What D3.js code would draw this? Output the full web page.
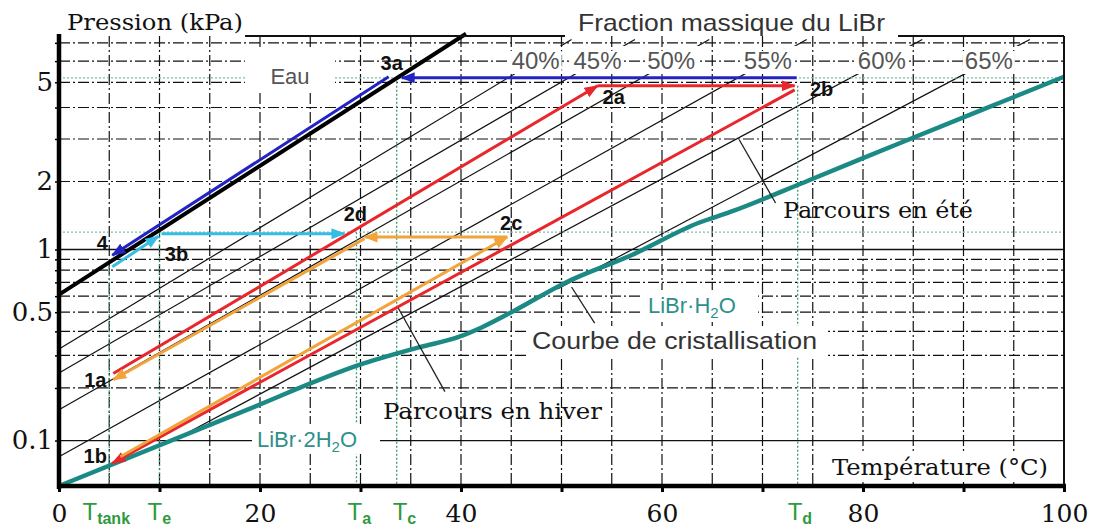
<!DOCTYPE html>
<html>
<head>
<meta charset="utf-8">
<script src="https://cdn.jsdelivr.net/npm/d3@7"></script>
<style>
body { margin: 0; background: #fff; }
svg { display: block; }
.serif { font-family: "DejaVu Serif", serif; fill: #111; }
.sans { font-family: "Liberation Sans", Arial, sans-serif; }
</style>
</head>
<body>
<div id="chart"></div>
<script>
var W = 1095, H = 531;

// ---- data ----
var tempTicks = [0, 10, 20, 30, 40, 50, 60, 70, 80, 90, 100];
var tempLabels = [0, 20, 40, 60, 80, 100];
var tempGrid = [5, 10, 15, 20, 25, 30, 35, 40, 45, 50, 55, 60, 65, 70, 75, 80, 85, 90, 95];
var pressLabels = [0.1, 0.5, 1, 2, 5];
var pressGrid = [0.2, 0.3, 0.4, 0.5, 0.6, 0.7, 0.8, 0.9, 2, 3, 4, 5, 6, 7];
var pressSolid = [0.1, 1];

// water (Eau) : [T degC, P kPa]
var eau = [[0, 0.611], [40.5, 7.55]];

// LiBr mass fraction lines
var isoNames = ["40%", "45%", "50%", "55%", "60%", "65%"];
var isoStart = [[0, 0.324], [0, 0.2415], [0, 0.151], [0, 0.080], [11.5, 0.101], [49.6, 0.65]];
var isoEnd = [[51.0, 7.2], [57.3, 7.2], [64.7, 7.2], [74.4, 7.2], [85.9, 7.2], [96.6, 7.2]];

// crystallisation curve
var cristT = [0, 17.9, 30.4, 35.9, 39.7, 42.1, 45.4, 50.3, 57.0, 63.6, 66.8, 74.7, 83.7, 93.6, 100];
var cristP = [0.0526, 0.1444, 0.2726, 0.3312, 0.3732, 0.42, 0.5117, 0.694, 0.943, 1.319, 1.4766, 2.03, 2.89, 4.175, 5.246];

// cycle paths, each segment [from, to]
var parcoursEte = [[[5.4, 0.24], [53.6, 4.85]], [[53.6, 4.85], [73.2, 4.85]], [[73.2, 4.68], [5.3, 0.073]]];
var parcoursHiver = [[[6.1, 0.080], [44.6, 1.14]], [[44.6, 1.14], [30.4, 1.14]], [[30.4, 1.12], [5.4, 0.222]]];
var vapeurCond = [[[73.4, 5.2], [34.1, 5.2]], [[32.8, 5.25], [5.3, 0.94]]];
var vapeurEvap = [[[5.3, 0.83], [9.9, 1.15]], [[10.2, 1.18], [28.4, 1.18]]];

// state points
var pointNames = ["3a", "2a", "2b", "2d", "2c", "4", "3b", "1a", "1b"];
var pointT = [33.6, 53.6, 73.3, 28.5, 44.6, 5.2, 10, 5.3, 5.3];
var pointP = [5.2, 4.85, 4.85, 1.2, 1.14, 0.88, 1.2, 0.235, 0.073];

// characteristic temperatures (green)
var tempMarkNames = ["tank", "e", "a", "c", "d"];
var tempMarks = [5, 10, 29.6, 33.6, 73.5];
var tempMarkTop = [0.872, 1.2, 1.2, 5.2, 4.85];
var pressMarks = [5.2, 1.2];

// leaders for annotations
var leaders = [[[67.7, 2.973], [71.3, 1.616]], [[33.7, 0.531], [38.4, 0.191]], [[51.0, 0.665], [53.3, 0.441]]];

// ---- scales ----
// pressure axis is linear in the saturation temperature of water (Duhring chart)
function tsat(p) {
  var L = Math.log(p / 0.61094);
  return 243.04 * L / (17.625 - L);
}
var x = d3.scaleLinear().domain([0, 100]).range([59, 1064]);
var yT = d3.scaleLinear().domain([-29.68, 40.09]).range([486, 36]);
var y = function(p) { return yT(tsat(p)); };

var line = d3.line()
  .x(function(d) { return x(d[0]); })
  .y(function(d) { return y(d[1]); });

var svg = d3.select("#chart").append("svg")
  .attr("width", W)
  .attr("height", H);

svg.append("rect").attr("width", W).attr("height", H).attr("fill", "#fff");

var colors = { red: "#e8262b", orange: "#f2a33a", blue: "#2323c4", cyan: "#36bde3" };
var defs = svg.append("defs");
Object.keys(colors).forEach(function(k) {
  defs.append("marker")
    .attr("id", "head-" + k)
    .attr("viewBox", "0 0 14 11")
    .attr("refX", 13)
    .attr("refY", 5.5)
    .attr("markerWidth", 14)
    .attr("markerHeight", 11)
    .attr("markerUnits", "userSpaceOnUse")
    .attr("orient", "auto")
    .append("path")
    .attr("d", "M0,0 L14,5.5 L0,11 Z")
    .attr("fill", colors[k]);
});

// iso concentration lines
var isoData = isoNames.map(function(n, i) { return [isoStart[i], isoEnd[i]]; });
svg.append("g").selectAll("path")
  .data(isoData)
  .enter().append("path")
  .attr("d", line)
  .attr("fill", "none")
  .attr("stroke", "#111")
  .attr("stroke-width", 1.2);

// white band behind the fraction labels
svg.append("rect")
  .attr("x", 470).attr("y", 46)
  .attr("width", 592).attr("height", 28)
  .attr("fill", "#fff");

// grid
var dash = "11,3,2,3";
svg.append("g").selectAll("line")
  .data(tempGrid)
  .enter().append("line")
  .attr("x1", function(d) { return x(d); })
  .attr("x2", function(d) { return x(d); })
  .attr("y1", yT.range()[1])
  .attr("y2", yT.range()[0])
  .attr("stroke", "#111")
  .attr("stroke-width", 1.2)
  .attr("stroke-dasharray", dash);
svg.append("g").selectAll("line")
  .data(pressGrid)
  .enter().append("line")
  .attr("x1", x(0)).attr("x2", x(100))
  .attr("y1", function(d) { return y(d); })
  .attr("y2", function(d) { return y(d); })
  .attr("stroke", "#111")
  .attr("stroke-width", 1.2)
  .attr("stroke-dasharray", dash);
svg.append("g").selectAll("line")
  .data(pressSolid)
  .enter().append("line")
  .attr("x1", x(0)).attr("x2", x(100))
  .attr("y1", function(d) { return y(d); })
  .attr("y2", function(d) { return y(d); })
  .attr("stroke", "#111")
  .attr("stroke-width", 1.3);

// green dotted marks
var green = "#3f9a6e";
svg.append("g").selectAll("line")
  .data(pressMarks)
  .enter().append("line")
  .attr("x1", x(0)).attr("x2", x(100))
  .attr("y1", function(d) { return y(d); })
  .attr("y2", function(d) { return y(d); })
  .attr("stroke", "#7fc0a8")
  .attr("stroke-width", 1.3)
  .attr("stroke-dasharray", "2,2");
svg.append("g").selectAll("line")
  .data(tempMarks)
  .enter().append("line")
  .attr("x1", function(d) { return x(d); })
  .attr("x2", function(d) { return x(d); })
  .attr("y1", function(d, i) { return y(tempMarkTop[i]); })
  .attr("y2", yT.range()[0])
  .attr("stroke", green)
  .attr("stroke-width", 1.3)
  .attr("stroke-dasharray", "2,2");

// water line
svg.append("path")
  .attr("d", line(eau))
  .attr("fill", "none")
  .attr("stroke", "#000")
  .attr("stroke-width", 4);

// crystallisation curve
var crist = cristT.map(function(t, i) { return [t, cristP[i]]; });
svg.append("path")
  .attr("d", line.curve(d3.curveMonotoneX)(crist))
  .attr("fill", "none")
  .attr("stroke", "#1b8a84")
  .attr("stroke-width", 4.5);
line.curve(d3.curveLinear);

// leaders
svg.append("g").selectAll("path")
  .data(leaders)
  .enter().append("path")
  .attr("d", line)
  .attr("stroke", "#222")
  .attr("stroke-width", 1.3);

// text boxes
function boxText(bx, by, bw, bh) {
  svg.append("rect").attr("x", bx).attr("y", by).attr("width", bw).attr("height", bh).attr("fill", "#fff");
}
boxText(245, 48, 90, 44);
boxText(526, 326, 302, 30);
boxText(643, 290, 115, 32);
boxText(252, 424, 128, 30);
boxText(828, 452, 222, 30);

svg.append("text").attr("class", "sans")
  .attr("x", 290).attr("y", 84)
  .attr("text-anchor", "middle")
  .attr("font-size", 22).attr("fill", "#555")
  .text("Eau");
svg.append("text").attr("class", "sans")
  .attr("x", 532).attr("y", 349)
  .attr("font-size", 23).attr("fill", "#333")
  .attr("textLength", 285).attr("lengthAdjust", "spacingAndGlyphs")
  .text("Courbe de cristallisation");

var teal = "#2f8f8c";
var t1 = svg.append("text").attr("class", "sans")
  .attr("x", 648).attr("y", 313)
  .attr("font-size", 22).attr("fill", teal);
t1.append("tspan").text("LiBr\u00b7H");
t1.append("tspan").attr("font-size", 15).attr("dy", 5).text("2");
t1.append("tspan").attr("dy", -5).text("O");

var t2 = svg.append("text").attr("class", "sans")
  .attr("x", 257).attr("y", 447)
  .attr("font-size", 22).attr("fill", teal);
t2.append("tspan").text("LiBr\u00b72H");
t2.append("tspan").attr("font-size", 15).attr("dy", 5).text("2");
t2.append("tspan").attr("dy", -5).text("O");

// fraction labels sit on their line at 6 kPa
var yLab = y(6);
isoData.forEach(function(seg, i) {
  var x0 = x(seg[0][0]), y0 = y(seg[0][1]), x1 = x(seg[1][0]), y1 = y(seg[1][1]);
  var t = (y0 - yLab) / (y0 - y1);
  var cx = x0 + t * (x1 - x0);
  svg.append("rect").attr("x", cx - 26).attr("y", 51).attr("width", 52).attr("height", 21).attr("fill", "#fff");
  svg.append("text").attr("class", "sans")
    .attr("x", cx).attr("y", 69)
    .attr("text-anchor", "middle")
    .attr("font-size", 24).attr("fill", "#555")
    .text(isoNames[i]);
});

// cycle arrows
function drawPath(segs, col) {
  svg.append("g").selectAll("path")
    .data(segs)
    .enter().append("path")
    .attr("d", line)
    .attr("fill", "none")
    .attr("stroke", colors[col])
    .attr("stroke-width", 3)
    .attr("marker-end", "url(#head-" + col + ")");
}
drawPath(parcoursEte, "red");
drawPath(parcoursHiver, "orange");
drawPath(vapeurCond, "blue");
drawPath(vapeurEvap, "cyan");

// state point labels
var labelOffset = {
  "3a": [-5, -15], "2a": [16, 11], "2b": [26, 3], "2d": [10, -18], "2c": [4, -14],
  "4": [-9, -18], "3b": [17, 22], "1a": [-17, 5], "1b": [-17, -7]
};
svg.append("g").selectAll("text")
  .data(pointNames)
  .enter().append("text")
  .attr("class", "sans")
  .attr("x", function(d, i) { return x(pointT[i]) + labelOffset[d][0]; })
  .attr("y", function(d, i) { return y(pointP[i]) + labelOffset[d][1]; })
  .attr("dy", "0.35em")
  .attr("text-anchor", "middle")
  .attr("font-size", 20)
  .attr("font-weight", "bold")
  .attr("fill", "#111")
  .text(function(d) { return d; });

// serif annotations
svg.append("text").attr("class", "serif")
  .attr("x", 783).attr("y", 218).attr("font-size", 22)
  .attr("textLength", 190).attr("lengthAdjust", "spacingAndGlyphs")
  .text("Parcours en été");
svg.append("text").attr("class", "serif")
  .attr("x", 383).attr("y", 419).attr("font-size", 22)
  .attr("textLength", 219).attr("lengthAdjust", "spacingAndGlyphs")
  .text("Parcours en hiver");
svg.append("text").attr("class", "serif")
  .attr("x", 832).attr("y", 475).attr("font-size", 22)
  .attr("textLength", 216).attr("lengthAdjust", "spacingAndGlyphs")
  .text("Température (°C)");
svg.append("text").attr("class", "serif")
  .attr("x", 67).attr("y", 30).attr("font-size", 22)
  .attr("textLength", 176).attr("lengthAdjust", "spacingAndGlyphs")
  .text("Pression (kPa)");
svg.append("text").attr("class", "sans")
  .attr("x", 578).attr("y", 31).attr("font-size", 24).attr("fill", "#333")
  .attr("textLength", 307).attr("lengthAdjust", "spacingAndGlyphs")
  .text("Fraction massique du LiBr");

// frame
svg.append("line").attr("x1", 245).attr("x2", 565).attr("y1", 36).attr("y2", 36)
  .attr("stroke", "#111").attr("stroke-width", 2);
svg.append("line").attr("x1", 898).attr("x2", x(100)).attr("y1", 36).attr("y2", 36)
  .attr("stroke", "#111").attr("stroke-width", 2);
svg.append("line").attr("x1", x(100)).attr("x2", x(100)).attr("y1", 36).attr("y2", 486)
  .attr("stroke", "#111").attr("stroke-width", 2);

// axes
var xAxis = d3.axisBottom(x)
  .tickValues(tempTicks)
  .tickSize(6)
  .tickPadding(12)
  .tickFormat(function(d) { return tempLabels.indexOf(d) >= 0 ? d : ""; });
var gx = svg.append("g")
  .attr("transform", "translate(0," + yT.range()[0] + ")")
  .call(xAxis);
gx.select(".domain").remove();
gx.selectAll("line").attr("stroke", "#000").attr("stroke-width", 3);
gx.selectAll("text").attr("class", "serif").attr("font-size", 25).attr("fill", "#111");

var yTickP = pressSolid.concat(pressGrid);
var yAxis = d3.axisLeft(yT)
  .tickValues(yTickP.map(tsat))
  .tickSize(4)
  .tickPadding(2)
  .tickFormat(function(d, i) {
    var p = yTickP[i];
    return pressLabels.indexOf(p) >= 0 ? String(p) : "";
  });
var gy = svg.append("g")
  .attr("transform", "translate(" + x(0) + ",0)")
  .call(yAxis);
gy.select(".domain").remove();
gy.selectAll("line").attr("stroke", "#000").attr("stroke-width", 1.5);
gy.selectAll("text").attr("class", "serif").attr("font-size", 26).attr("fill", "#111");

svg.append("line").attr("x1", x(0)).attr("x2", x(0)).attr("y1", 34).attr("y2", 489)
  .attr("stroke", "#000").attr("stroke-width", 4.5);
svg.append("line").attr("x1", x(0) - 2).attr("x2", x(100) + 2).attr("y1", 486).attr("y2", 486)
  .attr("stroke", "#000").attr("stroke-width", 4.5);

// green temperature labels
var tLabelDx = { tank: -3, e: -12, a: -9, c: -4, d: -10 };
tempMarkNames.forEach(function(n, i) {
  var tx = svg.append("text").attr("class", "sans")
    .attr("x", x(tempMarks[i]) + tLabelDx[n])
    .attr("y", 520)
    .attr("font-size", 24)
    .attr("fill", "#2e9a3e")
    .attr("text-anchor", n === "tank" ? "middle" : "start");
  tx.append("tspan").text("T");
  tx.append("tspan").attr("font-size", 16).attr("font-weight", "bold").attr("dy", 4).text(n);
});
</script>
</body>
</html>
